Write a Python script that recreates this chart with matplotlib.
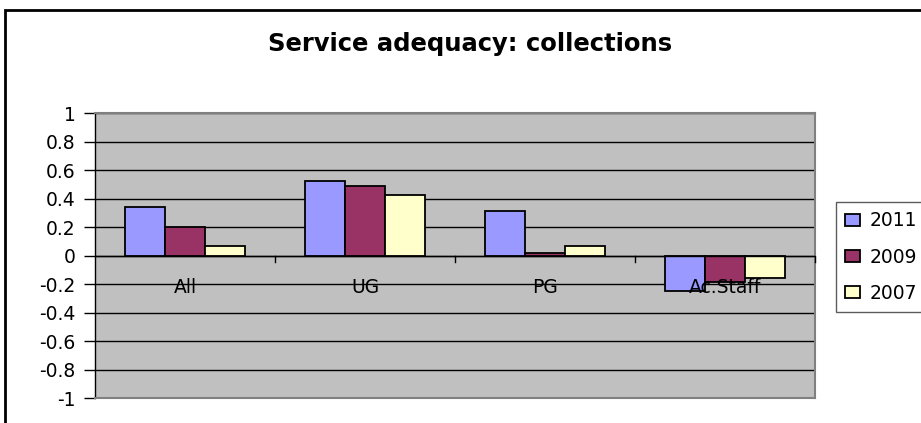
import matplotlib
matplotlib.use("Agg")
import matplotlib.pyplot as plt
from matplotlib.patches import Rectangle
import numpy as np

plt.rcParams['font.family'] = ['DejaVu Sans']

categories = ["All", "UG", "PG", "Ac.Staff"]
series_names = ["2011", "2009", "2007"]
v2011 = [0.34, 0.52, 0.31, -0.25]
v2009 = [0.20, 0.485, 0.02, -0.185]
v2007 = [0.065, 0.425, 0.065, -0.155]
colors = ["#9999FF", "#993366", "#FFFFCC"]
yticks = [1, 0.8, 0.6, 0.4, 0.2, 0, -0.2, -0.4, -0.6, -0.8, -1]

W, H = 921, 423
fig = plt.figure(figsize=(W / 100, H / 100), dpi=100)

# outer chart border
fig.patches.append(Rectangle((5 / W, -0.1), 1.2, 1.1 - 10 / H, transform=fig.transFigure,
                             fill=False, edgecolor="black", linewidth=2, zorder=0))

ax = fig.add_axes([95 / W, 1 - 398 / H, 720 / W, 285 / H])
ax.set_facecolor("#C0C0C0")
ax.set_xlim(0, len(categories))
ax.set_ylim(-1, 1)

for y in yticks:
    ax.axhline(y, color="black", linewidth=1, zorder=1)

n = len(series_names)
bw = 1 / 4.5
x = np.arange(len(categories)) + 0.5
for i, (vals, c) in enumerate(zip([v2011, v2009, v2007], colors)):
    ax.bar(x + (i - 1) * bw, vals, width=bw, color=c, edgecolor="black",
           linewidth=1.3, zorder=3, label=series_names[i])

ax.axhline(0, color="black", linewidth=1, zorder=4)
for k in range(1, len(categories) + 1):
    ax.plot([k, k], [0, -0.045], color="black", linewidth=1, zorder=4, clip_on=False)

for xi, lab in zip(x, categories):
    ax.text(xi, -0.225, lab, ha="center", va="center", fontsize=13.5, zorder=5)

ax.set_xticks([])
ax.set_yticks(yticks)
ax.set_yticklabels([f"{t:g}" for t in yticks], fontsize=13.5)
ax.tick_params(axis="y", length=8, width=1, color="black", pad=6)
for s in ["top", "right", "bottom"]:
    ax.spines[s].set_color("#808080")
    ax.spines[s].set_linewidth(1.5)
ax.spines["left"].set_color("black")
ax.spines["left"].set_linewidth(1)

fig.text(470 / W, 1 - 51 / H, "Service adequacy: collections", ha="center", va="baseline",
         fontsize=17.5, fontweight="bold")

leg = fig.legend(loc="upper left", bbox_to_anchor=(836 / W, 1 - 202 / H), fontsize=13.5,
                 frameon=True, fancybox=False, edgecolor="#333333", handlelength=0.8,
                 handleheight=0.6, handletextpad=0.5, labelspacing=0.92, borderpad=0.5,
                 borderaxespad=0)
leg.get_frame().set_linewidth(1)

fig.savefig("out.png", dpi=100, facecolor="white")
